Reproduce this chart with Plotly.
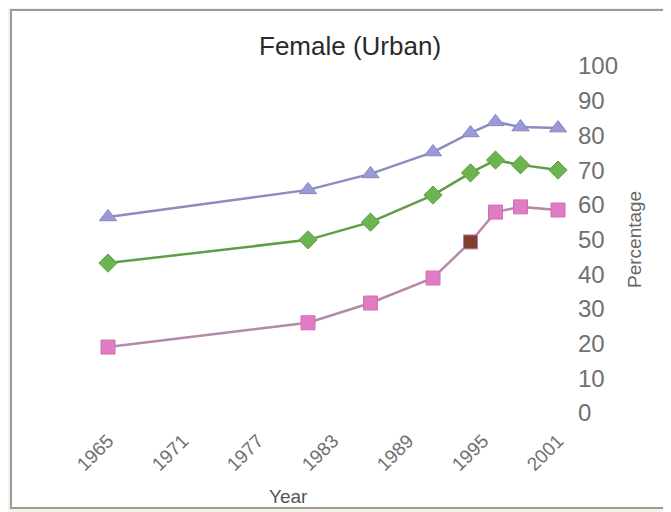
import plotly.graph_objects as go

years = [1965, 1981, 1986, 1991, 1994, 1996, 1998, 2001]
series_blue = [56.5, 64.3, 68.9, 75.2, 80.7, 83.9, 82.4, 82.1]
series_green = [43.2, 49.9, 55.0, 62.8, 69.2, 72.9, 71.5, 70.0]
series_pink = [19.0, 26.0, 31.7, 38.9, 49.3, 57.9, 59.4, 58.5]
x_ticks = [1965, 1971, 1977, 1983, 1989, 1995, 2001]
y_ticks = [0, 10, 20, 30, 40, 50, 60, 70, 80, 90, 100]

OFF = 8  # page body margin
W, H = 671 - OFF, 512 - OFF
# plot area in screen pixels
L, R, T, B = 60, 573, 66, 413
pw, ph = R - L, B - T

def px(x):
    return (x - L) / pw

def py(y):
    return (B - y) / ph

fig = go.Figure()

fig.add_trace(go.Scatter(
    x=years, y=series_blue, mode="lines+markers",
    line=dict(color="#8c8cbf", width=2.5),
    marker=dict(symbol="triangle-up", size=15, color="#9a9ad6",
                line=dict(color="#8686c0", width=1)),
    showlegend=False))
fig.add_trace(go.Scatter(
    x=years, y=series_green, mode="lines+markers",
    line=dict(color="#5f9e45", width=2.5),
    marker=dict(symbol="diamond", size=14, color="#6cb450",
                line=dict(color="#5f9e45", width=1)),
    showlegend=False))
pink_colors = ["#e07cc4"] * len(years)
pink_colors[4] = "#7a4030"
fig.add_trace(go.Scatter(
    x=years, y=series_pink, mode="lines+markers",
    line=dict(color="#b48aa8", width=2.5),
    marker=dict(symbol="square", size=14, color=pink_colors,
                line=dict(color="#d070b4", width=1)),
    showlegend=False))

x0 = 1965 - (108 - L) / 12.5
x1 = x0 + pw / 12.5

fig.update_layout(
    width=W, height=H,
    margin=dict(l=L - OFF, r=W - (R - OFF), t=T - OFF, b=H - (B - OFF), pad=0),
    paper_bgcolor="#f7f2e3",
    plot_bgcolor="rgba(0,0,0,0)",
    font=dict(family="Liberation Sans, Arial, sans-serif", color="#555555"),
    xaxis=dict(
        range=[x0, x1], tickmode="array", tickvals=x_ticks,
        ticktext=[str(v) for v in x_ticks], tickangle=-45,
        showgrid=False, zeroline=False, showline=False, ticks="",
        tickfont=dict(size=19, color="#707070"), automargin=False,
        ticklabelstandoff=12,
    ),
    yaxis=dict(
        range=[0, 100], side="right", tickmode="array", tickvals=y_ticks,
        showgrid=False, zeroline=False, showline=False, ticks="",
        tickfont=dict(size=24, color="#707070"), automargin=False,
        ticklabelstandoff=4,
    ),
    shapes=[dict(
        type="rect", xref="paper", yref="paper", layer="below",
        x0=px(11), x1=px(740), y0=py(508), y1=py(10),
        fillcolor="white", line=dict(color="#9a9a9a", width=2),
    )],
    annotations=[
        dict(text="Female (Urban)", xref="paper", yref="paper",
             x=px(350), y=py(46), xanchor="center", yanchor="middle",
             showarrow=False,
             font=dict(size=26, color="#2a2a2a")),
        dict(text="Year", xref="paper", yref="paper",
             x=px(288), y=py(496), xanchor="center", yanchor="middle",
             showarrow=False,
             font=dict(size=19, color="#555555")),
        dict(text="Percentage", xref="paper", yref="paper",
             x=px(634), y=py(240), xanchor="center", yanchor="middle",
             showarrow=False, textangle=-90,
             font=dict(size=19, color="#666666")),
    ],
)

fig.write_html("out.html")
